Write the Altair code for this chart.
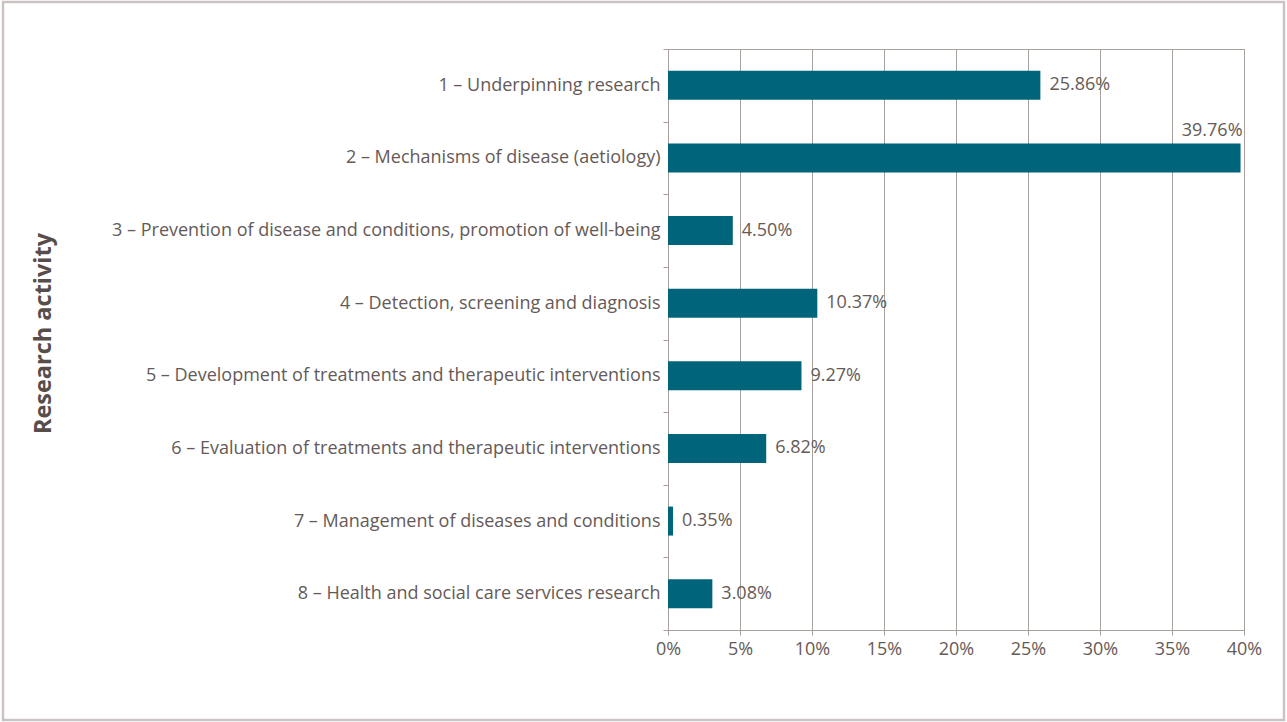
import altair as alt
import pandas as pd

categories = [
    "1 – Underpinning research",
    "2 – Mechanisms of disease (aetiology)",
    "3 – Prevention of disease and conditions, promotion of well-being",
    "4 – Detection, screening and diagnosis",
    "5 – Development of treatments and therapeutic interventions",
    "6 – Evaluation of treatments and therapeutic interventions",
    "7 – Management of diseases and conditions",
    "8 – Health and social care services research",
]
values = [25.86, 39.76, 4.50, 10.37, 9.27, 6.82, 0.35, 3.08]
x_ticks = [0, 5, 10, 15, 20, 25, 30, 35, 40]

df = pd.DataFrame({"activity": categories, "share": values})
df["label"] = [f"{v:.2f}%" for v in values]

FONT = "Open Sans"
FS = 18
TXT = "#655a57"
GRID = "#a8a09d"
BAR = "#00657b"

y_enc = alt.Y(
    "activity:N",
    sort=categories,
    scale=alt.Scale(paddingInner=0, paddingOuter=0),
    axis=alt.Axis(
        title="Research activity",
        tickBand="extent",
        tickSize=5,
        tickColor=GRID,
        domainColor=GRID,
        labelPadding=3,
        labelLimit=800,
        labelFont=FONT,
        labelFontSize=FS,
        labelColor=TXT,
        titleFont=FONT,
        titleFontSize=23.5,
        titleFontWeight="bold",
        titleColor="#574d4b",
        titleX=-625,
        titleY=284,
        titleBaseline="middle",
        grid=False,
    ),
)
x_enc = alt.X(
    "share:Q",
    scale=alt.Scale(domain=[0, 40], nice=False),
    axis=alt.Axis(
        values=x_ticks,
        labelExpr="datum.value + '%'",
        labelFlush=False,
        title=None,
        grid=True,
        gridColor=GRID,
        gridOpacity=1,
        tickColor=GRID,
        tickSize=5,
        domainColor=GRID,
        labelPadding=5,
        labelFont=FONT,
        labelFontSize=FS,
        labelColor=TXT,
    ),
)

base = alt.Chart(df)
bars = base.mark_bar(size=29, color=BAR).encode(x=x_enc, y=y_enc)
labels_right = base.transform_filter("datum.share < 35").mark_text(
    align="left", baseline="middle", dx=9, font=FONT, fontSize=FS, color=TXT
).encode(x="share:Q", y=alt.Y("activity:N", sort=categories), text="label:N")
labels_top = base.transform_filter("datum.share >= 35").mark_text(
    align="right", baseline="middle", dx=2, dy=-27, font=FONT, fontSize=FS, color=TXT
).encode(x="share:Q", y=alt.Y("activity:N", sort=categories), text="label:N")

frame = alt.Chart(pd.DataFrame({"f": [0]})).mark_rect(
    fill=None, stroke="#cbc3c1", strokeWidth=2.5
).encode(
    x=alt.value(-665), x2=alt.value(616), y=alt.value(-47), y2=alt.value(671)
)

chart = (
    alt.layer(bars, labels_right, labels_top, frame)
    .properties(
        width=576,
        height=581,
        autosize=alt.AutoSizeParams(type="none"),
        padding={"left": 668, "top": 49, "right": 43, "bottom": 92},
        background="white",
    )
    .configure_view(stroke=GRID, strokeWidth=1)
)

chart.save("out.html", embed_options={"renderer": "svg", "actions": False})
